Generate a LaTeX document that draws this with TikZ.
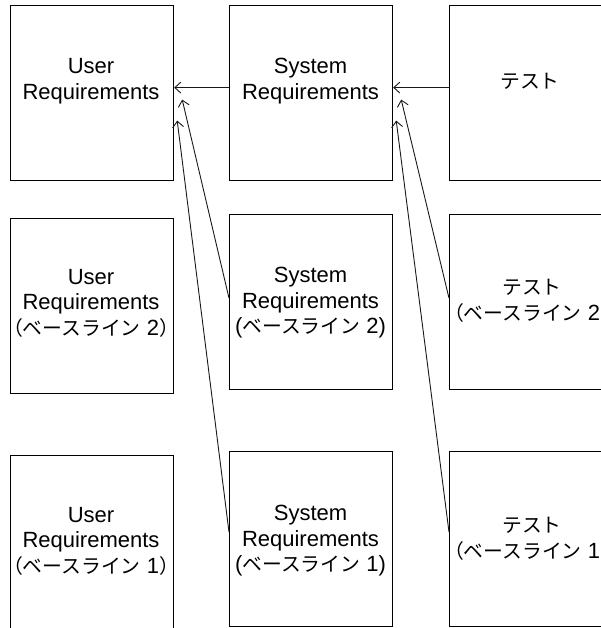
\documentclass[tikz,border=0pt]{standalone}
\usepackage{fontspec}
\setmainfont{Liberation Sans}
\newfontfamily\jp[Scale=0.9]{Noto Sans CJK JP}
\usetikzlibrary{arrows.meta}

% Japanese run with a Latin figure: （ベースライン n）
\newcommand{\bline}[1]{{\jp（ベースライン}\rmfamily{} #1{\jp）}}

\begin{document}
\begin{tikzpicture}[x=1pt,y=-1pt,
  box/.style={draw=black, line width=1.2pt, inner sep=0pt, anchor=north west,
              minimum width=163pt, minimum height=175pt},
  lbl/.style={align=center, inner sep=0pt, text=black,
              font=\fontsize{22}{25.5}\selectfont},
  link/.style={draw=black!90, line width=0.9pt,
               -{Straight Barb[length=6pt,width=11pt,line width=0.9pt]}}]
\useasboundingbox (0,0) rectangle (601,628);
\clip (0,0) rectangle (601,628);

% current versions
\node[box] (u1) at (10,5)  {};
\node[box] (s1) at (229,5) {};
\node[box] (t1) at (449,5) {};

% baseline 2
\node[box] (u2) at (10,218)  {};
\node[box] (s2) at (229,214) {};
\node[box] (t2) at (449,214) {};

% baseline 1
\node[box] (u3) at (10,455)  {};
\node[box] (s3) at (229,451) {};
\node[box] (t3) at (449,451) {};

% labels
\node[lbl] (u1t) at (91,81)    {User\\Requirements};
\node[lbl] (s1t) at (310.5,81) {System\\Requirements};
\node[lbl] (t1t) at (530,81)   {\jp テスト};

\node[lbl] (u2t) at (91,303)    {User\\Requirements\\\bline{2}};
\node[lbl] (s2t) at (310.5,303) {System\\Requirements\\(\jp ベースライン\rmfamily{} 2)};
\node[lbl] (t2t) at (532,301)   {\jp テスト\\\bline{2}};

\node[lbl] (u3t) at (91,541)    {User\\Requirements\\\bline{1}};
\node[lbl] (s3t) at (310.5,541) {System\\Requirements\\(\jp ベースライン\rmfamily{} 1)};
\node[lbl] (t3t) at (532,539)   {\jp テスト\\\bline{1}};

% trace links
\draw[link] ([yshift=5.5pt]s1.west) -- ([yshift=5.5pt]u1.east);
\draw[link] ([yshift=4pt]s2.west) -- ([xshift=8pt,yshift=-6.5pt]u1.east);
\draw[link] ([yshift=7pt]s3.west) -- ([xshift=3pt,yshift=-27.5pt]u1.east);

\draw[link] ([yshift=5.5pt]t1.west) -- ([yshift=5.5pt]s1.east);
\draw[link] ([yshift=4pt]t2.west) -- ([xshift=8pt,yshift=-6.5pt]s1.east);
\draw[link] ([yshift=7pt]t3.west) -- ([xshift=3pt,yshift=-27.5pt]s1.east);
\end{tikzpicture}
\end{document}
